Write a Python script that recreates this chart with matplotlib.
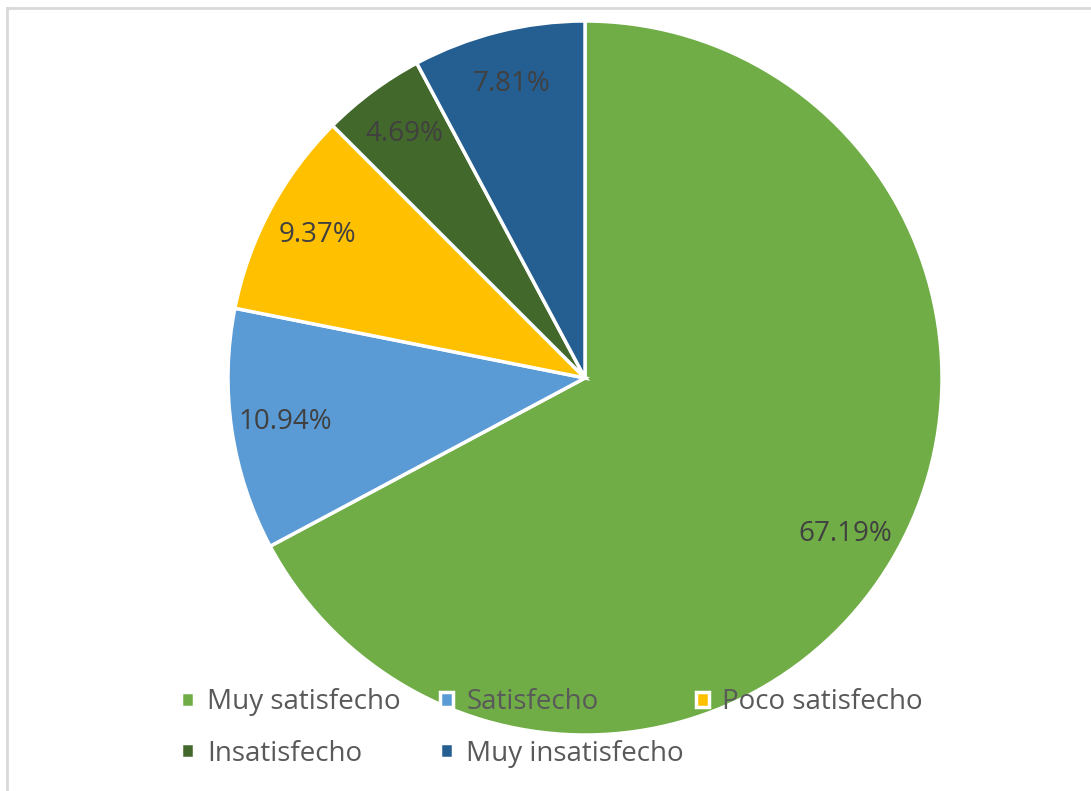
import matplotlib.pyplot as plt
from matplotlib.lines import Line2D

# Datos
categorias = ["Muy satisfecho", "Satisfecho", "Poco satisfecho", "Insatisfecho", "Muy insatisfecho"]
porcentajes = [67.19, 10.94, 9.37, 4.69, 7.81]
colores = ["#70AD47", "#5B9BD5", "#FFC000", "#43682B", "#255E91"]

plt.rcParams["font.family"] = ["Open Sans", "DejaVu Sans"]

fig = plt.figure(figsize=(10.91, 7.91), dpi=100)

# Eje del pastel: centro (585, 378) px, radio 357 px
W, H = 1091, 791
cx, cy, r = 585, 378, 357
ax = fig.add_axes([(cx - r) / W, (H - cy - r) / H, 2 * r / W, 2 * r / H])

wedges, textos, autotextos = ax.pie(
    porcentajes,
    colors=colores,
    startangle=90,
    counterclock=False,
    radius=1,
    autopct=lambda p: f"{p:.2f}%",
    pctdistance=0.85,
    wedgeprops=dict(edgecolor="white", linewidth=2.5),
    textprops=dict(color="#404040", fontsize=20),
)
ax.set_xlim(-1, 1)
ax.set_ylim(-1, 1)
ax.set_aspect("equal")
ax.axis("off")

# Leyenda en columnas (como Excel)
col_x = [181, 440, 696]
for c, x0 in enumerate(col_x):
    ley = fig.legend(
        wedges[c::3],
        categorias[c::3],
        loc="upper left",
        bbox_to_anchor=(x0 / W, 1 - 688 / H),
        frameon=False,
        fontsize=20,
        labelcolor="#595959",
        handlelength=0.45,
        handleheight=0.45,
        handletextpad=0.5,
        labelspacing=0.85,
        borderpad=0,
        borderaxespad=0,
    )

# Marco gris
fig.add_artist(Line2D([7 / W, 1], [1 - 8 / H, 1 - 8 / H], color="#D9D9D9", linewidth=2))
fig.add_artist(Line2D([7 / W, 7 / W], [0, 1 - 8 / H], color="#D9D9D9", linewidth=2))

fig.savefig("out.png", dpi=100, facecolor="white")
